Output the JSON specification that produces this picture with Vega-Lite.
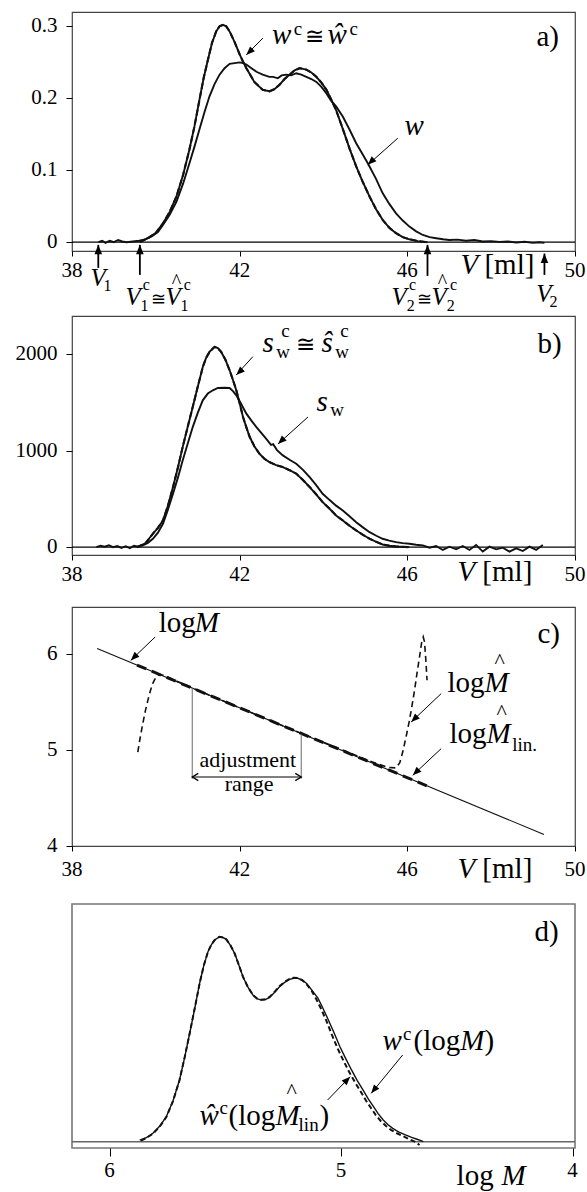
{
"$schema": "https://vega.github.io/schema/vega-lite/v6.json",
"autosize": {"type": "none"},
"padding": {"left": 72, "top": 12, "right": 515, "bottom": 1180},
"background": "white",
"bounds": "flush",
"spacing": 65,
"config": {
  "view": {"stroke": "#444", "strokeWidth": 1.2},
  "axis": {"labels": false, "tickColor": "#000", "tickSize": 5, "domain": false, "grid": false, "title": null},
  "text": {"font": "Liberation Serif", "color": "#000", "align": "left", "baseline": "alphabetic"}
},
"datasets": {
  "a_w": [{"x":38.63,"y":0.0},{"x":38.72,"y":0.002},{"x":38.8,"y":-0.001},{"x":38.9,"y":0.002},{"x":39.0,"y":0.0},{"x":39.1,"y":0.003},{"x":39.2,"y":0.001},{"x":39.3,"y":0.0},{"x":39.45,"y":0.001},{"x":39.6,"y":0.002},{"x":39.75,"y":0.004},{"x":39.9,"y":0.008},{"x":40.05,"y":0.014},{"x":40.17,"y":0.024},{"x":40.33,"y":0.038},{"x":40.49,"y":0.056},{"x":40.65,"y":0.081},{"x":40.8,"y":0.109},{"x":40.92,"y":0.132},{"x":41.04,"y":0.156},{"x":41.16,"y":0.18},{"x":41.28,"y":0.202},{"x":41.4,"y":0.219},{"x":41.52,"y":0.232},{"x":41.64,"y":0.241},{"x":41.76,"y":0.247},{"x":41.88,"y":0.248},{"x":42.0,"y":0.249},{"x":42.08,"y":0.248},{"x":42.16,"y":0.246},{"x":42.28,"y":0.241},{"x":42.4,"y":0.236},{"x":42.55,"y":0.232},{"x":42.71,"y":0.229},{"x":42.8,"y":0.229},{"x":42.91,"y":0.227},{"x":43.0,"y":0.231},{"x":43.11,"y":0.232},{"x":43.23,"y":0.231},{"x":43.35,"y":0.234},{"x":43.47,"y":0.232},{"x":43.59,"y":0.229},{"x":43.71,"y":0.226},{"x":43.83,"y":0.222},{"x":43.95,"y":0.215},{"x":44.07,"y":0.206},{"x":44.18,"y":0.196},{"x":44.3,"y":0.188},{"x":44.46,"y":0.174},{"x":44.62,"y":0.156},{"x":44.78,"y":0.137},{"x":44.94,"y":0.121},{"x":45.06,"y":0.109},{"x":45.25,"y":0.088},{"x":45.41,"y":0.068},{"x":45.57,"y":0.053},{"x":45.73,"y":0.04},{"x":45.89,"y":0.03},{"x":46.05,"y":0.0216},{"x":46.21,"y":0.015},{"x":46.37,"y":0.01},{"x":46.53,"y":0.007},{"x":46.69,"y":0.0055},{"x":46.85,"y":0.004},{"x":47.0,"y":0.003},{"x":47.2,"y":0.0035},{"x":47.4,"y":0.002},{"x":47.6,"y":0.003},{"x":47.8,"y":0.001},{"x":48.0,"y":0.0015},{"x":48.2,"y":0.0005},{"x":48.4,"y":0.001},{"x":48.6,"y":-0.0005},{"x":48.8,"y":0.0005},{"x":49.0,"y":-0.001},{"x":49.15,"y":0.0},{"x":49.27,"y":-0.001}],
  "a_wc": [{"x":39.62,"y":0.0},{"x":39.85,"y":0.007},{"x":40.0,"y":0.013},{"x":40.17,"y":0.026},{"x":40.33,"y":0.042},{"x":40.49,"y":0.063},{"x":40.65,"y":0.093},{"x":40.8,"y":0.128},{"x":40.92,"y":0.16},{"x":41.04,"y":0.197},{"x":41.14,"y":0.227},{"x":41.24,"y":0.252},{"x":41.34,"y":0.276},{"x":41.44,"y":0.292},{"x":41.52,"y":0.299},{"x":41.6,"y":0.301},{"x":41.68,"y":0.299},{"x":41.76,"y":0.292},{"x":41.88,"y":0.277},{"x":42.0,"y":0.26},{"x":42.08,"y":0.25},{"x":42.16,"y":0.241},{"x":42.35,"y":0.222},{"x":42.55,"y":0.211},{"x":42.71,"y":0.209},{"x":42.83,"y":0.212},{"x":42.95,"y":0.218},{"x":43.07,"y":0.226},{"x":43.19,"y":0.232},{"x":43.31,"y":0.238},{"x":43.43,"y":0.241},{"x":43.59,"y":0.239},{"x":43.71,"y":0.235},{"x":43.83,"y":0.229},{"x":43.95,"y":0.221},{"x":44.07,"y":0.211},{"x":44.18,"y":0.198},{"x":44.3,"y":0.183},{"x":44.46,"y":0.157},{"x":44.62,"y":0.13},{"x":44.78,"y":0.105},{"x":44.94,"y":0.083},{"x":45.1,"y":0.063},{"x":45.25,"y":0.046},{"x":45.41,"y":0.031},{"x":45.57,"y":0.02},{"x":45.73,"y":0.0125},{"x":45.89,"y":0.007},{"x":46.05,"y":0.004},{"x":46.25,"y":0.0015},{"x":46.48,"y":0.0}],
  "a_0": [{"x":38,"x2":50,"y":0}],
  "a_xl": [{"x":38,"y":-0.0481,"t":"38"},{"x":42,"y":-0.0481,"t":"42"},{"x":46,"y":-0.0481,"t":"46"},{"x":50,"y":-0.0481,"t":"50"}],
  "a_yl": [{"x":37.657,"y":0,"t":"0"},{"x":37.657,"y":0.1,"t":"0.1"},{"x":37.657,"y":0.2,"t":"0.2"},{"x":37.657,"y":0.3,"t":"0.3"}],
  "a_arr_dl": [{"x":42.157,"y":0.2594,"x2":42.553,"y2":0.2826},{"x":45.057,"y":0.1071,"x2":45.772,"y2":0.144}],
  "a_arr_up": [{"x":38.627,"y":-0.0037,"x2":38.627,"y2":-0.0356},{"x":39.619,"y":-0.0037,"x2":39.619,"y2":-0.0453},{"x":46.481,"y":-0.0037,"x2":46.481,"y2":-0.0467},{"x":49.271,"y":-0.0158,"x2":49.271,"y2":-0.0453}],
  "a_it": [{"x":42.772,"y":0.2747,"t":"w"},{"x":44.096,"y":0.2747,"t":"ŵ"},{"x":45.934,"y":0.1486,"t":"w"},{"x":47.267,"y":-0.0439,"t":"V"}],
  "a_rm": [{"x":47.84,"y":-0.0439,"t":"[ml]"},{"x":49.08,"y":0.2719,"t":"a)"}],
  "a_sym": [{"x":43.548,"y":0.2747,"t":"≅"}],
  "a_sm": [{"x":43.293,"y":0.2875,"t":"c"},{"x":44.62,"y":0.2875,"t":"c"}],
  "a_vit": [{"x":38.444,"y":-0.0605,"t":"V"},{"x":39.278,"y":-0.0868,"t":"V"},{"x":40.232,"y":-0.0868,"t":"V"},{"x":45.62,"y":-0.0868,"t":"V"},{"x":46.574,"y":-0.0868,"t":"V"},{"x":49.078,"y":-0.0827,"t":"V"}],
  "a_vsm": [{"x":38.754,"y":-0.0675,"t":"1"},{"x":39.636,"y":-0.0952,"t":"1"},{"x":39.69,"y":-0.0669,"t":"c"},{"x":40.59,"y":-0.0952,"t":"1"},{"x":40.668,"y":-0.0669,"t":"c"},{"x":45.984,"y":-0.0952,"t":"2"},{"x":46.038,"y":-0.0669,"t":"c"},{"x":46.938,"y":-0.0952,"t":"2"},{"x":47.016,"y":-0.0669,"t":"c"},{"x":49.391,"y":-0.0896,"t":"2"}],
  "a_vsym": [{"x":39.88,"y":-0.0868,"t":"≅"},{"x":46.224,"y":-0.0868,"t":"≅"}],
  "a_hat": [{"x":40.38,"y":-0.0637,"t":"^"},{"x":46.723,"y":-0.0637,"t":"^"}],

  "b_sw": [{"x":38.58,"y":0},{"x":38.68,"y":15},{"x":38.78,"y":5},{"x":38.88,"y":20},{"x":38.98,"y":0},{"x":39.08,"y":12},{"x":39.18,"y":-8},{"x":39.28,"y":10},{"x":39.38,"y":-10},{"x":39.48,"y":15},{"x":39.58,"y":5},{"x":39.69,"y":20},{"x":39.81,"y":45},{"x":39.93,"y":87},{"x":40.05,"y":150},{"x":40.17,"y":242},{"x":40.29,"y":390},{"x":40.41,"y":553},{"x":40.53,"y":725},{"x":40.64,"y":898},{"x":40.76,"y":1070},{"x":40.88,"y":1243},{"x":41.0,"y":1390},{"x":41.12,"y":1520},{"x":41.24,"y":1590},{"x":41.36,"y":1624},{"x":41.48,"y":1648},{"x":41.64,"y":1650},{"x":41.76,"y":1648},{"x":41.84,"y":1615},{"x":41.92,"y":1572},{"x":42.04,"y":1480},{"x":42.16,"y":1382},{"x":42.28,"y":1310},{"x":42.4,"y":1243},{"x":42.52,"y":1180},{"x":42.63,"y":1123},{"x":42.71,"y":1080},{"x":42.75,"y":1058},{"x":42.8,"y":1066},{"x":42.89,"y":1005},{"x":43.03,"y":950},{"x":43.19,"y":905},{"x":43.35,"y":864},{"x":43.51,"y":800},{"x":43.67,"y":725},{"x":43.83,"y":640},{"x":43.98,"y":553},{"x":44.14,"y":490},{"x":44.3,"y":430},{"x":44.46,"y":380},{"x":44.62,"y":320},{"x":44.78,"y":259},{"x":44.94,"y":205},{"x":45.1,"y":155},{"x":45.26,"y":118},{"x":45.41,"y":87},{"x":45.57,"y":68},{"x":45.73,"y":52},{"x":45.89,"y":42},{"x":46.05,"y":35},{"x":46.21,"y":25},{"x":46.37,"y":18},{"x":46.528,"y":-5},{"x":46.687,"y":12},{"x":46.846,"y":-29},{"x":47.005,"y":5},{"x":47.165,"y":-22},{"x":47.323,"y":12},{"x":47.482,"y":-29},{"x":47.642,"y":23},{"x":47.8,"y":-46},{"x":47.959,"y":5},{"x":48.119,"y":-22},{"x":48.277,"y":-5},{"x":48.436,"y":-46},{"x":48.596,"y":-12},{"x":48.754,"y":-40},{"x":48.913,"y":5},{"x":49.073,"y":-29},{"x":49.231,"y":23}],
  "b_swc": [{"x":39.55,"y":0},{"x":39.75,"y":40},{"x":39.93,"y":139},{"x":40.05,"y":200},{"x":40.17,"y":277},{"x":40.29,"y":430},{"x":40.41,"y":622},{"x":40.53,"y":830},{"x":40.64,"y":1036},{"x":40.76,"y":1245},{"x":40.88,"y":1451},{"x":41.0,"y":1660},{"x":41.12,"y":1865},{"x":41.2,"y":1960},{"x":41.28,"y":2021},{"x":41.4,"y":2073},{"x":41.48,"y":2060},{"x":41.56,"y":2021},{"x":41.66,"y":1940},{"x":41.76,"y":1831},{"x":41.84,"y":1730},{"x":41.92,"y":1624},{"x":42.0,"y":1490},{"x":42.08,"y":1347},{"x":42.16,"y":1240},{"x":42.24,"y":1140},{"x":42.35,"y":1045},{"x":42.47,"y":968},{"x":42.59,"y":915},{"x":42.71,"y":881},{"x":42.87,"y":850},{"x":43.03,"y":829},{"x":43.19,"y":797},{"x":43.35,"y":761},{"x":43.51,"y":695},{"x":43.67,"y":622},{"x":43.83,"y":545},{"x":43.98,"y":466},{"x":44.14,"y":400},{"x":44.3,"y":328},{"x":44.46,"y":277},{"x":44.62,"y":222},{"x":44.78,"y":173},{"x":44.94,"y":128},{"x":45.1,"y":87},{"x":45.26,"y":55},{"x":45.41,"y":28},{"x":45.57,"y":15},{"x":45.73,"y":7},{"x":46.05,"y":0}],
  "b_0": [{"x":38,"x2":50,"y":0}],
  "b_xl": [{"x":38,"y":-346,"t":"38"},{"x":42,"y":-346,"t":"42"},{"x":46,"y":-346,"t":"46"},{"x":50,"y":-346,"t":"50"}],
  "b_yl": [{"x":37.657,"y":0,"t":"0"},{"x":37.657,"y":1000,"t":"1000"},{"x":37.657,"y":2000,"t":"2000"}],
  "b_arr_dl": [{"x":41.918,"y":1783,"x2":42.314,"y2":1972},{"x":42.915,"y":1068,"x2":43.631,"y2":1348}],
  "b_it": [{"x":42.545,"y":2021,"t":"s"},{"x":43.952,"y":2021,"t":"ŝ"},{"x":43.833,"y":1410,"t":"s"},{"x":47.196,"y":-350,"t":"V"}],
  "b_rm": [{"x":47.79,"y":-350,"t":"[ml]"},{"x":49.104,"y":2009,"t":"b)"}],
  "b_sym": [{"x":43.35,"y":2021,"t":"≅"}],
  "b_sm": [{"x":42.87,"y":1959,"t":"w"},{"x":42.99,"y":2176,"t":"c"},{"x":44.28,"y":1959,"t":"w"},{"x":44.4,"y":2176,"t":"c"},{"x":44.16,"y":1358,"t":"w"}],

  "c_line": [{"x":38.6,"y":6.06},{"x":49.26,"y":4.12}],
  "c_hat": [{"x":39.57,"y":4.98},{"x":39.63,"y":5.14},{"x":39.69,"y":5.28},{"x":39.75,"y":5.41},{"x":39.81,"y":5.52},{"x":39.87,"y":5.62},{"x":39.93,"y":5.7},{"x":40.0,"y":5.76},{"x":40.08,"y":5.79},{"x":40.2,"y":5.78},{"x":40.5,"y":5.72},{"x":41.0,"y":5.625},{"x":41.5,"y":5.533},{"x":42.0,"y":5.442},{"x":42.5,"y":5.351},{"x":43.0,"y":5.26},{"x":43.5,"y":5.169},{"x":44.0,"y":5.083},{"x":44.3,"y":5.03},{"x":44.6,"y":4.975},{"x":45.0,"y":4.905},{"x":45.3,"y":4.855},{"x":45.55,"y":4.82},{"x":45.73,"y":4.815},{"x":45.82,"y":4.87},{"x":45.89,"y":4.98},{"x":45.97,"y":5.14},{"x":46.05,"y":5.31},{"x":46.11,"y":5.46},{"x":46.17,"y":5.62},{"x":46.23,"y":5.8},{"x":46.29,"y":5.97},{"x":46.34,"y":6.12},{"x":46.38,"y":6.18},{"x":46.41,"y":6.13},{"x":46.44,"y":5.95},{"x":46.47,"y":5.73}],
  "c_lin": [{"x":39.55,"y":5.888},{"x":46.5,"y":4.622}],
  "c_xl": [{"x":38,"y":3.684,"t":"38"},{"x":42,"y":3.684,"t":"42"},{"x":46,"y":3.684,"t":"46"},{"x":50,"y":3.684,"t":"50"}],
  "c_yl": [{"x":37.657,"y":4,"t":"4"},{"x":37.657,"y":5,"t":"5"},{"x":37.657,"y":6,"t":"6"}],
  "c_arr_dl": [{"x":39.402,"y":5.937,"x2":39.984,"y2":6.181},{"x":46.092,"y":5.294,"x2":46.807,"y2":5.59},{"x":46.13,"y":4.738,"x2":46.807,"y2":5.016}],
  "c_adj": [{"x":40.869,"y":5.645,"y2":4.703},{"x":43.469,"y":5.165,"y2":4.703}],
  "c_dbl": [{"x":40.87,"x2":43.47,"y":4.72}],
  "c_chev_l": [{"x":40.87,"y":4.72}],
  "c_chev_r": [{"x":43.47,"y":4.72}],
  "c_it": [{"x":40.928,"y":6.2295,"t":"M"},{"x":47.84,"y":5.6035,"t":"M"},{"x":47.887,"y":5.0715,"t":"M"},{"x":47.196,"y":3.663,"t":"V"}],
  "c_rm": [{"x":40.07,"y":6.2295,"t":"log"},{"x":46.958,"y":5.6035,"t":"log"},{"x":47.005,"y":5.0715,"t":"log"},{"x":47.79,"y":3.663,"t":"[ml]"},{"x":49.104,"y":6.115,"t":"c)"}],
  "c_sm": [{"x":48.5,"y":4.988,"t":"lin."}],
  "c_hatc": [{"x":48.08,"y":5.86,"t":"^"},{"x":48.127,"y":5.33,"t":"^"}],
  "c_mid": [{"x":42.195,"y":4.821,"t":"adjustment"},{"x":42.224,"y":4.571,"t":"range"}],

  "d_w": [{"x":5.87,"y":0.008},{"x":5.841,"y":0.02},{"x":5.813,"y":0.041},{"x":5.784,"y":0.075},{"x":5.755,"y":0.122},{"x":5.726,"y":0.2},{"x":5.698,"y":0.301},{"x":5.676,"y":0.41},{"x":5.654,"y":0.529},{"x":5.632,"y":0.652},{"x":5.611,"y":0.773},{"x":5.593,"y":0.86},{"x":5.575,"y":0.927},{"x":5.56,"y":0.962},{"x":5.546,"y":0.984},{"x":5.525,"y":1.0},{"x":5.51,"y":0.996},{"x":5.496,"y":0.987},{"x":5.478,"y":0.958},{"x":5.46,"y":0.919},{"x":5.442,"y":0.863},{"x":5.424,"y":0.805},{"x":5.403,"y":0.755},{"x":5.381,"y":0.716},{"x":5.363,"y":0.698},{"x":5.345,"y":0.691},{"x":5.327,"y":0.693},{"x":5.309,"y":0.704},{"x":5.288,"y":0.728},{"x":5.266,"y":0.756},{"x":5.244,"y":0.777},{"x":5.222,"y":0.792},{"x":5.205,"y":0.797},{"x":5.187,"y":0.797},{"x":5.168,"y":0.788},{"x":5.15,"y":0.773},{"x":5.128,"y":0.742},{"x":5.1,"y":0.7},{"x":5.078,"y":0.65},{"x":5.055,"y":0.594},{"x":5.03,"y":0.53},{"x":5.005,"y":0.463},{"x":4.98,"y":0.405},{"x":4.955,"y":0.35},{"x":4.93,"y":0.298},{"x":4.905,"y":0.252},{"x":4.882,"y":0.208},{"x":4.86,"y":0.171},{"x":4.84,"y":0.137},{"x":4.818,"y":0.106},{"x":4.797,"y":0.083},{"x":4.777,"y":0.065},{"x":4.75,"y":0.047},{"x":4.722,"y":0.033},{"x":4.695,"y":0.021},{"x":4.672,"y":0.012},{"x":4.655,"y":0.005},{"x":4.645,"y":0.0}],
  "d_wh": [{"x":5.865,"y":0.005},{"x":5.841,"y":0.018},{"x":5.813,"y":0.039},{"x":5.784,"y":0.073},{"x":5.755,"y":0.12},{"x":5.726,"y":0.198},{"x":5.698,"y":0.3},{"x":5.676,"y":0.41},{"x":5.654,"y":0.529},{"x":5.632,"y":0.652},{"x":5.611,"y":0.773},{"x":5.593,"y":0.86},{"x":5.575,"y":0.927},{"x":5.56,"y":0.962},{"x":5.546,"y":0.984},{"x":5.525,"y":1.0},{"x":5.51,"y":0.996},{"x":5.496,"y":0.987},{"x":5.478,"y":0.958},{"x":5.46,"y":0.919},{"x":5.442,"y":0.863},{"x":5.424,"y":0.805},{"x":5.403,"y":0.755},{"x":5.381,"y":0.716},{"x":5.363,"y":0.698},{"x":5.345,"y":0.693},{"x":5.327,"y":0.695},{"x":5.309,"y":0.706},{"x":5.288,"y":0.73},{"x":5.266,"y":0.758},{"x":5.244,"y":0.78},{"x":5.222,"y":0.795},{"x":5.205,"y":0.8},{"x":5.187,"y":0.798},{"x":5.168,"y":0.788},{"x":5.15,"y":0.77},{"x":5.128,"y":0.738},{"x":5.107,"y":0.695},{"x":5.085,"y":0.645},{"x":5.063,"y":0.588},{"x":5.04,"y":0.522},{"x":5.015,"y":0.455},{"x":4.99,"y":0.395},{"x":4.965,"y":0.34},{"x":4.94,"y":0.29},{"x":4.915,"y":0.244},{"x":4.892,"y":0.2},{"x":4.87,"y":0.163},{"x":4.85,"y":0.13},{"x":4.828,"y":0.1},{"x":4.806,"y":0.077},{"x":4.785,"y":0.058},{"x":4.757,"y":0.04},{"x":4.73,"y":0.026},{"x":4.705,"y":0.012},{"x":4.682,"y":0.0},{"x":4.661,"y":-0.016}],
  "d_0": [{"x":3.9896,"x2":6.1624,"y":0}],
  "d_xl": [{"x":6,"y":-0.172,"t":"6"},{"x":5,"y":-0.172,"t":"5"},{"x":4,"y":-0.172,"t":"4"}],
  "d_arr_dl": [{"x":4.87,"y":0.236,"x2":4.734,"y2":0.423}],
  "d_arr_ur": [{"x":4.9607,"y":0.3171,"x2":5.0583,"y2":0.2034}],
  "d_it": [{"x":4.8207,"y":0.4473,"t":"w"},{"x":4.4851,"y":0.4473,"t":"M"},{"x":5.6112,"y":0.0815,"t":"ŵ"},{"x":5.2829,"y":0.0815,"t":"M"},{"x":4.3067,"y":-0.2112,"t":"M"}],
  "d_rm": [{"x":4.6868,"y":0.4473,"t":"(log"},{"x":4.3801,"y":0.4473,"t":")"},{"x":5.486,"y":0.0815,"t":"(log"},{"x":5.0929,"y":0.0815,"t":")"},{"x":4.501,"y":-0.2112,"t":"log"},{"x":4.1641,"y":0.979,"t":"d)"}],
  "d_sm": [{"x":4.7322,"y":0.4961,"t":"c"},{"x":5.5248,"y":0.1351,"t":"c"},{"x":5.1836,"y":0.0522,"t":"lin"}],
  "d_hat": [{"x":5.2361,"y":0.215,"t":"^"}]
},
"vconcat": [
  {
    "width": 503, "height": 239,
    "encoding": {
      "x": {"field": "x", "type": "quantitative", "scale": {"domain": [38, 50], "nice": false, "zero": false}, "axis": {"values": [38, 42, 46, 50]}},
      "y": {"field": "y", "type": "quantitative", "scale": {"domain": [-0.0122, 0.3188], "nice": false, "zero": false}, "axis": {"values": [0, 0.1, 0.2, 0.3], "tickSize": 6}}
    },
    "layer": [
      {"data": {"name": "a_0"}, "mark": {"type": "rule", "color": "#000", "strokeWidth": 1.2}, "encoding": {"x2": {"field": "x2"}}},
      {"data": {"name": "a_w"}, "mark": {"type": "line", "color": "#111", "strokeWidth": 1.9}},
      {"data": {"name": "a_wc"}, "mark": {"type": "line", "color": "#111", "strokeWidth": 1.9}},
      {"data": {"name": "a_wc"}, "mark": {"type": "line", "color": "#111", "strokeWidth": 2.1, "strokeDash": [6, 3]}},
      {"data": {"name": "a_arr_dl"}, "mark": {"type": "rule", "color": "#000", "strokeWidth": 1}, "encoding": {"x2": {"field": "x2"}, "y2": {"field": "y2"}}},
      {"data": {"name": "a_arr_dl"}, "mark": {"type": "point", "shape": "M0,0L-1,-0.4L-1,0.4Z", "filled": true, "fill": "#000", "strokeWidth": 0, "size": 300, "opacity": 1, "angle": 136}},
      {"data": {"name": "a_arr_up"}, "mark": {"type": "rule", "color": "#000", "strokeWidth": 1.8}, "encoding": {"y2": {"field": "y2"}}},
      {"data": {"name": "a_arr_up"}, "mark": {"type": "point", "shape": "M0,0L-1,-0.4L-1,0.4Z", "filled": true, "fill": "#000", "strokeWidth": 0, "size": 360, "opacity": 1, "angle": 270}},
      {"data": {"name": "a_xl"}, "mark": {"type": "text", "fontSize": 21, "align": "center"}, "encoding": {"text": {"field": "t"}}},
      {"data": {"name": "a_yl"}, "mark": {"type": "text", "fontSize": 21, "align": "right", "baseline": "middle"}, "encoding": {"text": {"field": "t"}}},
      {"data": {"name": "a_it"}, "mark": {"type": "text", "fontStyle": "italic", "fontSize": 29}, "encoding": {"text": {"field": "t"}}},
      {"data": {"name": "a_rm"}, "mark": {"type": "text", "fontSize": 29}, "encoding": {"text": {"field": "t"}}},
      {"data": {"name": "a_sym"}, "mark": {"type": "text", "font": "DejaVu Serif", "fontSize": 23}, "encoding": {"text": {"field": "t"}}},
      {"data": {"name": "a_sm"}, "mark": {"type": "text", "fontSize": 19}, "encoding": {"text": {"field": "t"}}},
      {"data": {"name": "a_vit"}, "mark": {"type": "text", "fontStyle": "italic", "fontSize": 25}, "encoding": {"text": {"field": "t"}}},
      {"data": {"name": "a_vsm"}, "mark": {"type": "text", "fontSize": 16}, "encoding": {"text": {"field": "t"}}},
      {"data": {"name": "a_vsym"}, "mark": {"type": "text", "font": "DejaVu Serif", "fontSize": 18}, "encoding": {"text": {"field": "t"}}},
      {"data": {"name": "a_hat"}, "mark": {"type": "text", "fontSize": 20}, "encoding": {"text": {"field": "t"}}}
    ]
  },
  {
    "bounds": "flush",
    "spacing": 52,
    "vconcat": [
      {
        "width": 503, "height": 239,
        "encoding": {
          "x": {"field": "x", "type": "quantitative", "scale": {"domain": [38, 50], "nice": false, "zero": false}, "axis": {"values": [38, 42, 46, 50]}},
          "y": {"field": "y", "type": "quantitative", "scale": {"domain": [-81, 2393], "nice": false, "zero": false}, "axis": {"values": [0, 1000, 2000], "tickSize": 6}}
        },
        "layer": [
          {"data": {"name": "b_0"}, "mark": {"type": "rule", "color": "#000", "strokeWidth": 1.2}, "encoding": {"x2": {"field": "x2"}}},
          {"data": {"name": "b_sw"}, "mark": {"type": "line", "color": "#111", "strokeWidth": 1.9}},
          {"data": {"name": "b_swc"}, "mark": {"type": "line", "color": "#111", "strokeWidth": 1.9}},
          {"data": {"name": "b_swc"}, "mark": {"type": "line", "color": "#111", "strokeWidth": 2.1, "strokeDash": [6, 3]}},
          {"data": {"name": "b_arr_dl"}, "mark": {"type": "rule", "color": "#000", "strokeWidth": 1}, "encoding": {"x2": {"field": "x2"}, "y2": {"field": "y2"}}},
          {"data": {"name": "b_arr_dl"}, "mark": {"type": "point", "shape": "M0,0L-1,-0.4L-1,0.4Z", "filled": true, "fill": "#000", "strokeWidth": 0, "size": 300, "opacity": 1, "angle": 136}},
          {"data": {"name": "b_xl"}, "mark": {"type": "text", "fontSize": 21, "align": "center"}, "encoding": {"text": {"field": "t"}}},
          {"data": {"name": "b_yl"}, "mark": {"type": "text", "fontSize": 21, "align": "right", "baseline": "middle"}, "encoding": {"text": {"field": "t"}}},
          {"data": {"name": "b_it"}, "mark": {"type": "text", "fontStyle": "italic", "fontSize": 29}, "encoding": {"text": {"field": "t"}}},
          {"data": {"name": "b_rm"}, "mark": {"type": "text", "fontSize": 29}, "encoding": {"text": {"field": "t"}}},
          {"data": {"name": "b_sym"}, "mark": {"type": "text", "font": "DejaVu Serif", "fontSize": 23}, "encoding": {"text": {"field": "t"}}},
          {"data": {"name": "b_sm"}, "mark": {"type": "text", "fontSize": 19}, "encoding": {"text": {"field": "t"}}}
        ]
      },
      {
        "bounds": "flush",
        "spacing": 58,
        "vconcat": [
          {
            "width": 503, "height": 239,
            "encoding": {
              "x": {"field": "x", "type": "quantitative", "scale": {"domain": [38, 50], "nice": false, "zero": false}, "axis": {"values": [38, 42, 46, 50]}},
              "y": {"field": "y", "type": "quantitative", "scale": {"domain": [4, 6.494], "nice": false, "zero": false}, "axis": {"values": [4, 5, 6], "tickSize": 6}}
            },
            "layer": [
              {"data": {"name": "c_line"}, "mark": {"type": "line", "color": "#111", "strokeWidth": 1.1}},
              {"data": {"name": "c_lin"}, "mark": {"type": "line", "color": "#111", "strokeWidth": 3, "strokeDash": [10, 6]}},
              {"data": {"name": "c_hat"}, "mark": {"type": "line", "color": "#111", "strokeWidth": 1.6, "strokeDash": [6, 4]}},
              {"data": {"name": "c_adj"}, "mark": {"type": "rule", "color": "#777", "strokeWidth": 1.1}, "encoding": {"y2": {"field": "y2"}}},
              {"data": {"name": "c_dbl"}, "mark": {"type": "rule", "color": "#000", "strokeWidth": 1.1}, "encoding": {"x2": {"field": "x2"}}},
              {"data": {"name": "c_chev_l"}, "mark": {"type": "point", "shape": "M-1,-0.6L0,0L-1,0.6", "filled": false, "fill": null, "stroke": "#000", "strokeWidth": 1.3, "size": 144, "opacity": 1, "angle": 180}},
              {"data": {"name": "c_chev_r"}, "mark": {"type": "point", "shape": "M-1,-0.6L0,0L-1,0.6", "filled": false, "fill": null, "stroke": "#000", "strokeWidth": 1.3, "size": 144, "opacity": 1, "angle": 0}},
              {"data": {"name": "c_arr_dl"}, "mark": {"type": "rule", "color": "#000", "strokeWidth": 1}, "encoding": {"x2": {"field": "x2"}, "y2": {"field": "y2"}}},
              {"data": {"name": "c_arr_dl"}, "mark": {"type": "point", "shape": "M0,0L-1,-0.4L-1,0.4Z", "filled": true, "fill": "#000", "strokeWidth": 0, "size": 300, "opacity": 1, "angle": 136}},
              {"data": {"name": "c_xl"}, "mark": {"type": "text", "fontSize": 21, "align": "center"}, "encoding": {"text": {"field": "t"}}},
              {"data": {"name": "c_yl"}, "mark": {"type": "text", "fontSize": 21, "align": "right", "baseline": "middle"}, "encoding": {"text": {"field": "t"}}},
              {"data": {"name": "c_it"}, "mark": {"type": "text", "fontStyle": "italic", "fontSize": 29}, "encoding": {"text": {"field": "t"}}},
              {"data": {"name": "c_rm"}, "mark": {"type": "text", "fontSize": 29}, "encoding": {"text": {"field": "t"}}},
              {"data": {"name": "c_sm"}, "mark": {"type": "text", "fontSize": 19}, "encoding": {"text": {"field": "t"}}},
              {"data": {"name": "c_hatc"}, "mark": {"type": "text", "fontSize": 22}, "encoding": {"text": {"field": "t"}}},
              {"data": {"name": "c_mid"}, "mark": {"type": "text", "fontSize": 22, "align": "center"}, "encoding": {"text": {"field": "t"}}}
            ]
          },
          {
            "width": 503, "height": 244,
            "view": {"stroke": "#777", "strokeWidth": 1.6},
            "encoding": {
              "x": {"field": "x", "type": "quantitative", "scale": {"domain": [3.9896, 6.1624], "reverse": true, "nice": false, "zero": false}, "axis": {"values": [4, 5, 6], "tickSize": 8}},
              "y": {"field": "y", "type": "quantitative", "scale": {"domain": [-0.0307, 1.1595], "nice": false, "zero": false}, "axis": null}
            },
            "layer": [
              {"data": {"name": "d_0"}, "mark": {"type": "rule", "color": "#666", "strokeWidth": 1.4}, "encoding": {"x2": {"field": "x2"}}},
              {"data": {"name": "d_w"}, "mark": {"type": "line", "color": "#111", "strokeWidth": 1.4}},
              {"data": {"name": "d_wh"}, "mark": {"type": "line", "color": "#111", "strokeWidth": 2, "strokeDash": [5, 3]}},
              {"data": {"name": "d_arr_dl"}, "mark": {"type": "rule", "color": "#000", "strokeWidth": 1}, "encoding": {"x2": {"field": "x2"}, "y2": {"field": "y2"}}},
              {"data": {"name": "d_arr_dl"}, "mark": {"type": "point", "shape": "M0,0L-1,-0.4L-1,0.4Z", "filled": true, "fill": "#000", "strokeWidth": 0, "size": 300, "opacity": 1, "angle": 129}},
              {"data": {"name": "d_arr_ur"}, "mark": {"type": "rule", "color": "#000", "strokeWidth": 1}, "encoding": {"x2": {"field": "x2"}, "y2": {"field": "y2"}}},
              {"data": {"name": "d_arr_ur"}, "mark": {"type": "point", "shape": "M0,0L-1,-0.4L-1,0.4Z", "filled": true, "fill": "#000", "strokeWidth": 0, "size": 300, "opacity": 1, "angle": 314}},
              {"data": {"name": "d_xl"}, "mark": {"type": "text", "fontSize": 21, "align": "center"}, "encoding": {"text": {"field": "t"}}},
              {"data": {"name": "d_it"}, "mark": {"type": "text", "fontStyle": "italic", "fontSize": 29}, "encoding": {"text": {"field": "t"}}},
              {"data": {"name": "d_rm"}, "mark": {"type": "text", "fontSize": 29}, "encoding": {"text": {"field": "t"}}},
              {"data": {"name": "d_sm"}, "mark": {"type": "text", "fontSize": 19}, "encoding": {"text": {"field": "t"}}},
              {"data": {"name": "d_hat"}, "mark": {"type": "text", "fontSize": 22}, "encoding": {"text": {"field": "t"}}}
            ]
          }
        ]
      }
    ]
  }
]
}
